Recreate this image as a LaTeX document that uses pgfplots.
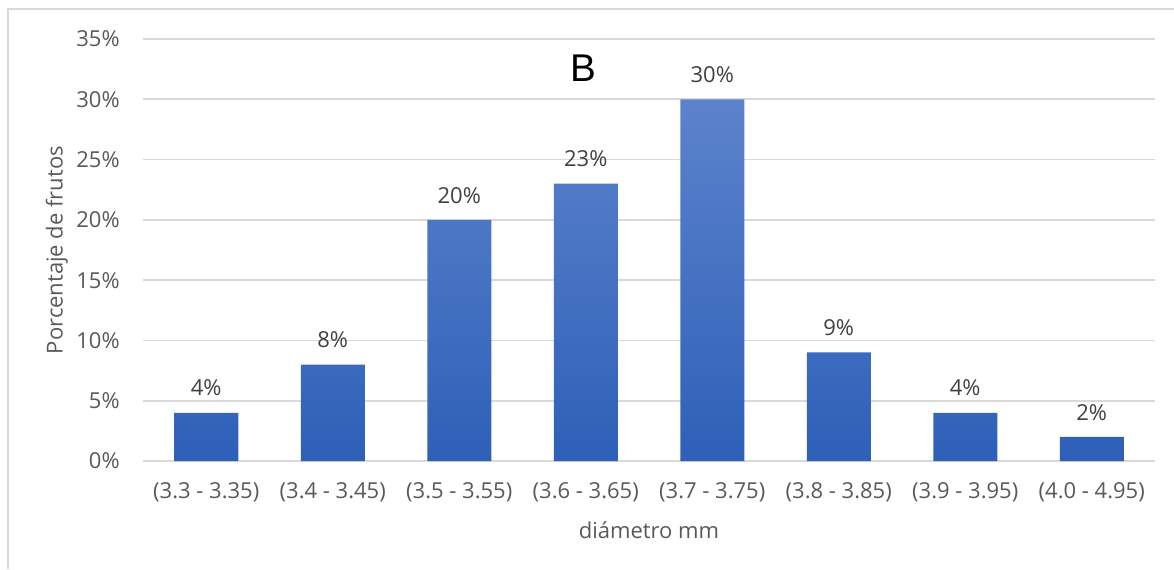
\documentclass[border=0pt]{standalone}
\usepackage{fontspec}
\setmainfont{Open Sans}
\newfontfamily\arialfont{Liberation Sans}
\usepackage{pgfplots}
\pgfplotsset{compat=1.18}
\definecolor{gridc}{RGB}{217,217,217}
\definecolor{tickc}{RGB}{89,89,89}
\definecolor{labc}{RGB}{64,64,64}
\definecolor{bartop}{RGB}{92,131,204}
\definecolor{barbot}{RGB}{46,96,184}
\begin{document}
\begin{tikzpicture}
\path[use as bounding box] (0,0) rectangle (880.5pt,426.75pt);
\draw[gridc, line width=1.5pt] (6pt,0) -- (6pt,420pt) -- (880.5pt,420pt);
\begin{axis}[
  at={(107.25pt,81pt)}, anchor=south west,
  scale only axis, width=759pt, height=316.5pt,
  xmin=-0.5, xmax=7.5, ymin=0, ymax=35,
  ytick={0,5,...,35},
  yticklabel={\pgfmathprintnumber{\tick}\%},
  /pgf/number format/assume math mode=true,
  xtick=data,
  xticklabels={(3.3 - 3.35),(3.4 - 3.45),(3.5 - 3.55),(3.6 - 3.65),(3.7 - 3.75),(3.8 - 3.85),(3.9 - 3.95),(4.0 - 4.95)},
  ymajorgrids, grid style={gridc, line width=1.2pt},
  axis line style={draw=none},
  major tick length=0pt,
  tick label style={font=\fontsize{16.5}{19}\selectfont, text=tickc},
  yticklabel style={xshift=-14pt},
  xticklabel style={yshift=-12.5pt},
  ylabel={Porcentaje de frutos},
  ylabel style={at={(axis description cs:-0.085,0.5)}, anchor=center, font=\fontsize{16.5}{19}\selectfont, text=tickc},
  xlabel={diámetro mm},
  xlabel style={at={(axis description cs:0.5,-0.1635)}, anchor=center, font=\fontsize{16.5}{19}\selectfont, text=tickc},
  ybar, bar width=48pt,
  nodes near coords={\pgfmathprintnumber{\pgfplotspointmeta}\%},
  every node near coord/.append style={anchor=center, yshift=18.5pt, font=\fontsize{16.5}{19}\selectfont, text=labc},
  clip=false,
]
\addplot[draw=none, top color=bartop, bottom color=barbot] coordinates {
(0,4) (1,8) (2,20) (3,23) (4,30) (5,9) (6,4) (7,2)};
\end{axis}
\node[font=\arialfont\fontsize{29}{32}\selectfont] at (437.25pt,375.75pt) {B};
\end{tikzpicture}
\end{document}
